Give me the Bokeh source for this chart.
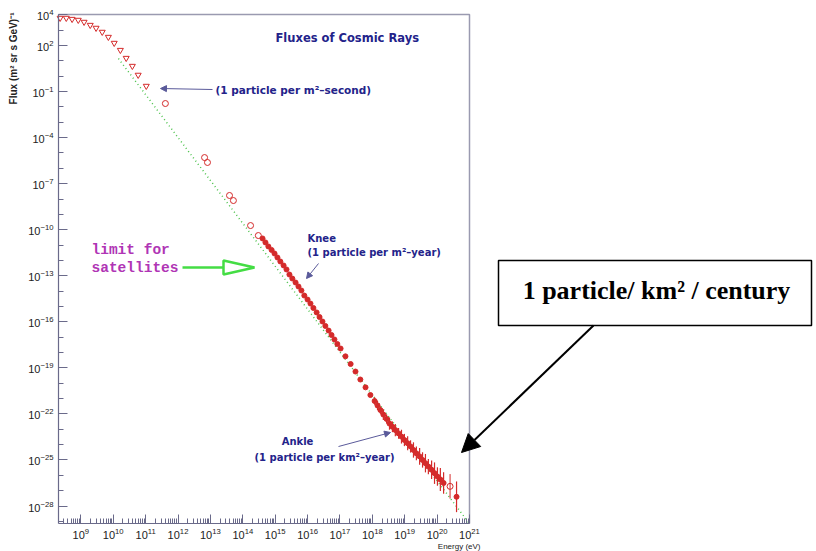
import math
from bokeh.plotting import figure
from bokeh.models import Range1d, FixedTicker, Label, Arrow, NormalHead, ColumnDataSource
from bokeh.embed import file_html
from bokeh.resources import INLINE

# ---------------- data (log10 values) ----------------
tri_logE = [8.36, 8.55, 8.73, 8.92, 9.10, 9.29, 9.47, 9.66, 9.85, 10.03, 10.22, 10.40, 10.59, 10.77, 11.02]
tri_logF = [3.79, 3.79, 3.72, 3.66, 3.53, 3.33, 3.14, 2.88, 2.55, 2.16, 1.70, 1.18, 0.66, 0.08, -0.64]

circ_logE = [11.61, 12.82, 12.91, 13.59, 13.71, 14.24, 14.48, 20.40]
circ_logF = [-1.78, -5.30, -5.62, -7.77, -8.10, -9.73, -10.38, -26.72]
circ_err = [0, 0, 0, 0, 0, 0, 0, 0.8]

dot_logE = [14.61, 14.70, 14.79, 14.89, 14.98, 15.07, 15.16, 15.26, 15.35, 15.44, 15.53, 15.63, 15.72,
            15.81, 15.90, 16.00, 16.09, 16.18, 16.28, 16.37, 16.46, 16.55, 16.65, 16.74, 16.83, 16.92,
            17.02, 17.17, 17.33, 17.48, 17.63, 17.79, 17.94, 18.07, 18.16, 18.25, 18.34, 18.44, 18.53,
            18.62, 18.71, 18.81, 18.90, 18.99, 19.09, 19.18, 19.27, 19.36, 19.46, 19.55, 19.64, 19.73,
            19.83, 19.92, 20.01, 20.10, 20.20, 20.60]
dot_logF = [-10.57, -10.83, -11.09, -11.32, -11.55, -11.81, -12.07, -12.33, -12.59, -12.92, -13.18,
            -13.44, -13.70, -13.96, -14.29, -14.55, -14.81, -15.10, -15.39, -15.69, -15.98, -16.27,
            -16.57, -16.86, -17.15, -17.45, -17.74, -18.25, -18.75, -19.24, -19.76, -20.27, -20.77,
            -21.16, -21.45, -21.75, -22.04, -22.33, -22.63, -22.84, -23.05, -23.27, -23.48, -23.70,
            -23.91, -24.12, -24.35, -24.57, -24.77, -25.00, -25.21, -25.43, -25.64, -25.86, -26.08,
            -26.27, -26.50, -27.40]
dot_err = [0] * 33 + [0.25, 0.3, 0.25, 0.35, 0.3, 0.4, 0.35, 0.4, 0.35, 0.45, 0.4, 0.45, 0.4,
                      0.5, 0.45, 0.55, 0.5, 0.6, 0.5, 0.6, 0.7, 0.6, 0.75, 0.7, 1.0]

fit_logE = [10.16, 20.97]
fit_logF = [1.15, -29.07]

x_ticks_exp = list(range(9, 22))
y_ticks_exp = [4, 2, -1, -4, -7, -10, -13, -16, -19, -22, -25, -28]

# ---------------- layout ----------------
W, H = 816, 551
FL, FR, FT, FB = 58, 469, 14, 523          # plot box inside the canvas
X0, X1 = 8.31, 21.0                        # log10 energy at box edges
Y0, Y1 = -29.14, 4.02                      # log10 flux at box edges
DX = (FR - FL) / (X1 - X0)
DY = (FB - FT) / (Y1 - Y0)
XA, XB = X0 - FL / DX, X1 + (W - FR) / DX
YA, YB = Y0 - (H - FB) / DY, Y1 + FT / DY

def ex(px):
    return 10 ** (X0 + (px - FL) / DX)

def fy(py):
    return 10 ** (Y1 - (py - FT) / DY)

p = figure(width=W, height=H, x_axis_type="log", y_axis_type="log",
           x_range=Range1d(10 ** XA, 10 ** XB), y_range=Range1d(10 ** YA, 10 ** YB),
           output_backend="svg", toolbar_location=None, min_border=0)
p.background_fill_color = "white"
p.border_fill_color = "white"
p.outline_line_color = None
p.xgrid.visible = False
p.ygrid.visible = False

axc = "#6a6a8a"
xt = [10.0 ** e for e in x_ticks_exp]
xminor = [k * 10.0 ** e for e in range(8, 21) for k in range(2, 10) if X0 < e + math.log10(k) < X1]
p.xaxis.ticker = FixedTicker(ticks=xt, minor_ticks=xminor)
yt = [10.0 ** e for e in y_ticks_exp]
yminor = [10.0 ** e for e in range(-29, 5) if Y0 < e < Y1]
p.yaxis.ticker = FixedTicker(ticks=yt, minor_ticks=yminor)
p.xaxis.fixed_location = 10 ** Y0
p.yaxis.fixed_location = 10 ** X0
p.xaxis.bounds = (10 ** X0, 10 ** X1)
p.yaxis.bounds = (10 ** Y0, 10 ** Y1)
for ax in (p.xaxis, p.yaxis):
    ax.axis_line_color = axc
    ax.axis_line_width = 1.2
    ax.major_tick_line_color = axc
    ax.minor_tick_line_color = axc
    ax.major_tick_in = 9
    ax.major_tick_out = 0
    ax.minor_tick_in = 5
    ax.minor_tick_out = 0
    ax.major_label_text_font = "Liberation Sans"
    ax.major_label_text_font_size = "11px"
    ax.major_label_text_color = "#222222"
p.xaxis.major_label_standoff = 4
p.yaxis.major_label_standoff = 5

# top and right edges of the plot box
p.line([10 ** X0, 10 ** X1, 10 ** X1], [10 ** Y1, 10 ** Y1, 10 ** Y0],
       line_color="#9a9ab0", line_width=1.5)

# ---------------- data marks ----------------
red = "#d42a2a"
p.line([10 ** v for v in fit_logE], [10 ** v for v in fit_logF], line_color="#4cc24c",
       line_dash="1 3", line_width=1.5)

p.scatter([10 ** v for v in tri_logE], [10 ** v for v in tri_logF], marker="inverted_triangle",
          size=6, fill_color=None, line_color=red, line_width=1)

csrc = ColumnDataSource(dict(
    x=[10 ** v for v in circ_logE],
    y=[10 ** v for v in circ_logF],
    lo=[10 ** (v - e) for v, e in zip(circ_logF, circ_err)],
    hi=[10 ** (v + e) for v, e in zip(circ_logF, circ_err)],
))
p.segment(x0="x", y0="lo", x1="x", y1="hi", source=csrc, line_color=red, line_width=1)
p.scatter("x", "y", source=csrc, marker="circle", size=6, fill_color=None, line_color=red, line_width=1)

src = ColumnDataSource(dict(
    x=[10 ** v for v in dot_logE],
    y=[10 ** v for v in dot_logF],
    lo=[10 ** (v - e) for v, e in zip(dot_logF, dot_err)],
    hi=[10 ** (v + e) for v, e in zip(dot_logF, dot_err)],
))
p.segment(x0="x", y0="lo", x1="x", y1="hi", source=src, line_color=red, line_width=1.2)
p.scatter("x", "y", source=src, marker="circle", size=5, fill_color=red, line_color=red)

# ---------------- annotations ----------------
blue = "#23238a"

def lab(px, py, text, **kw):
    opts = dict(text_font="DejaVu Sans", text_font_size="10px", text_color=blue,
                text_font_style="bold", text_baseline="middle", text_align="left")
    opts.update(kw)
    p.add_layout(Label(x=ex(px), y=fy(py), text=text, **opts))

lab(275, 37, "Fluxes of Cosmic Rays", text_font_size="11.5px")
lab(215, 89, "(1 particle per m²–second)", text_font_size="10.5px")
lab(307, 238, "Knee")
lab(307, 252, "(1 particle per m²–year)")
lab(297, 441, "Ankle", text_align="center")
lab(324, 457, "(1 particle per km²–year)", text_align="center")

ac = "#5a5a9a"
for (x0, y0, x1, y1) in [(212, 89, 160, 88), (318, 263, 306, 278), (338, 446, 390, 432)]:
    p.add_layout(Arrow(x_start=ex(x0), y_start=fy(y0), x_end=ex(x1), y_end=fy(y1),
                       line_color=ac, line_width=1,
                       end=NormalHead(size=6, fill_color=ac, line_color=ac)))

# limit for satellites
mag = "#b035b5"
lab(91, 249, "limit for", text_font="Liberation Mono", text_font_size="14.5px", text_color=mag)
lab(91, 267, "satellites", text_font="Liberation Mono", text_font_size="14.5px", text_color=mag)
green = "#44dd44"
p.segment(x0=[ex(182)], y0=[fy(267)], x1=[ex(223)], y1=[fy(267)], line_color=green, line_width=2.5)
p.patch([ex(223), ex(254), ex(223)], [fy(260), fy(267), fy(274)], fill_color="white",
        line_color=green, line_width=2.5)

# axis titles
lab(13, 12, "Flux (m² sr s GeV)⁻¹", angle=math.pi / 2, text_align="right",
    text_color="#222222", text_font="Liberation Sans", text_font_size="10px")
lab(480, 546, "Energy (eV)", text_align="right", text_color="#222222", text_font="Liberation Sans",
    text_font_size="8px", text_font_style="normal")

# callout box
p.quad(left=[ex(498)], right=[ex(811)], top=[fy(260)], bottom=[fy(325)],
       fill_color="white", line_color="black", line_width=1.5)
p.add_layout(Label(x=ex(656), y=fy(290), text="1 particle/ km² / century",
                   text_font="Liberation Serif", text_font_style="bold", text_font_size="26px",
                   text_color="black", text_align="center", text_baseline="middle"))
p.add_layout(Arrow(x_start=ex(593), y_start=fy(325), x_end=ex(461), y_end=fy(452),
                   line_color="black", line_width=2,
                   end=NormalHead(size=18, fill_color="black", line_color="black")))

open("out.html", "w").write(file_html(p, INLINE))
